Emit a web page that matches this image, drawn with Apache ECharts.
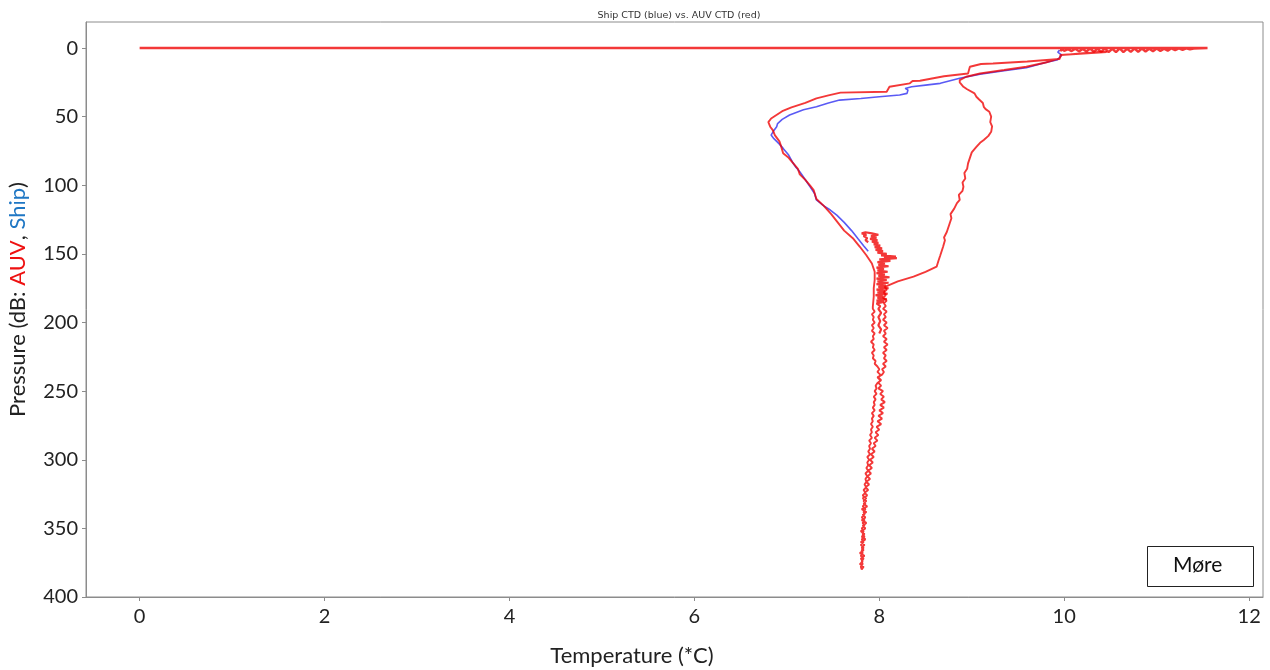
<!DOCTYPE html>
<html>
<head>
<meta charset="utf-8">
<title>Ship CTD vs AUV CTD</title>
<script src="https://cdn.jsdelivr.net/npm/echarts@6/dist/echarts.min.js"></script>
<style>
  html, body { margin: 0; padding: 0; background: #fff; }
  #main { width: 1270px; height: 670px; }
</style>
</head>
<body>
<div id="main"></div>
<script>
// tick labels
const tempTicks = [0, 2, 4, 6, 8, 10, 12];
const pressTicks = [0, 50, 100, 150, 200, 250, 300, 350, 400];

// [temperature, pressure]
// AUV at the surface (first sample logged as 0 degC), noisy wedge near 10-11.5
const auvSurface = [
  [0, 0], [11.55, 0], [11.4, 0.3], [11.36, 1.0], [11.32, 0.2], [11.28, 1.3], [11.24, 0.3],
  [11.2, 1.6], [11.16, 0.2], [11.12, 1.9], [11.08, 0.4], [11.04, 2.1], [11.0, 0.3],
  [10.96, 2.3], [10.92, 0.5], [10.88, 2.5], [10.84, 0.3], [10.8, 2.7], [10.76, 0.4],
  [10.72, 2.8], [10.68, 0.6], [10.64, 2.9], [10.6, 0.3], [10.56, 3.0], [10.52, 0.5],
  [10.48, 3.0], [10.44, 0.4], [10.4, 2.8], [10.36, 0.6], [10.32, 2.7], [10.28, 0.4],
  [10.24, 2.5], [10.2, 0.7], [10.16, 2.4], [10.12, 0.5], [10.08, 2.2], [10.04, 0.8],
  [10.0, 2.0], [9.97, 0.9], [9.96, 2.4]
];

// AUV dive down through the cold layer
const auvColdDown = [
  [10.46, 2.9], [9.96, 5.0], [9.95, 8.0], [9.6, 9.8], [9.23, 11.2], [9.1, 11.6],
  [8.98, 13.6], [8.97, 16.0], [8.96, 18.5], [8.7, 20.5], [8.44, 23.8], [8.36, 24.0],
  [8.33, 25.7], [8.11, 28.2], [8.08, 31.8], [7.58, 32.5], [7.45, 34.5], [7.32, 36.7],
  [7.2, 40.0], [7.05, 43.2], [6.95, 46.0], [6.83, 51.3], [6.8, 54.0], [6.82, 57.3],
  [6.85, 60.0], [6.87, 63.4], [6.92, 68.0], [6.94, 72.0], [6.96, 76.7], [7.02, 80.0],
  [7.07, 84.0], [7.12, 88.0], [7.14, 92.0], [7.2, 96.0], [7.25, 100.0], [7.29, 103.5],
  [7.32, 110.0], [7.4, 115.0], [7.48, 121.0], [7.55, 127.0], [7.62, 133.0],
  [7.72, 139.0], [7.79, 144.8], [7.86, 151.0], [7.92, 157.0], [7.95, 163.0],
  [7.95, 169.0], [7.94, 175.0], [7.94, 181.0], [7.93, 188.5]
];

// AUV column to the bottom (left strand)
const auvColumnDown = [
  [7.93, 190], [7.95, 192], [7.92, 194], [7.94, 196], [7.93, 198], [7.95, 200],
  [7.92, 202], [7.94, 204], [7.92, 206], [7.95, 208], [7.93, 210], [7.94, 212],
  [7.91, 214], [7.94, 216], [7.93, 218], [7.95, 220], [7.92, 222], [7.94, 224],
  [7.93, 226], [7.96, 228], [7.95, 230], [7.98, 232], [8.0, 234], [7.98, 236],
  [8.01, 238], [7.99, 240], [8.02, 242], [7.98, 244], [7.96, 246], [7.97, 248],
  [7.95, 250], [7.97, 252], [7.94, 254], [7.96, 256], [7.94, 258], [7.95, 260],
  [7.93, 262], [7.95, 264], [7.92, 266], [7.94, 268], [7.92, 270], [7.93, 272],
  [7.91, 274], [7.93, 276], [7.91, 278], [7.92, 280], [7.9, 282], [7.92, 284],
  [7.89, 286], [7.91, 288], [7.89, 290], [7.9, 292], [7.88, 294], [7.9, 296],
  [7.87, 298], [7.89, 300], [7.87, 302], [7.88, 304], [7.86, 306], [7.88, 308],
  [7.85, 310], [7.87, 312], [7.85, 314], [7.86, 316], [7.84, 318], [7.86, 320],
  [7.83, 322], [7.85, 324], [7.82, 326], [7.86, 328], [7.83, 330], [7.85, 332],
  [7.82, 334], [7.85, 336], [7.83, 338], [7.84, 340], [7.81, 342], [7.84, 344],
  [7.82, 346], [7.84, 348], [7.81, 350], [7.83, 352], [7.82, 354], [7.84, 356],
  [7.81, 358], [7.83, 360], [7.8, 362], [7.83, 364], [7.81, 366], [7.82, 368],
  [7.8, 370], [7.83, 372], [7.81, 374], [7.82, 376], [7.8, 378], [7.81, 380]
];

// AUV column back up (right strand)
const auvColumnUp = [
  [7.8, 380], [7.83, 378], [7.79, 376], [7.82, 374], [7.8, 372], [7.84, 370],
  [7.79, 368], [7.83, 366], [7.81, 364], [7.84, 362], [7.8, 360], [7.85, 358],
  [7.81, 356], [7.84, 354], [7.8, 352], [7.85, 350], [7.82, 348], [7.86, 346],
  [7.81, 344], [7.85, 342], [7.82, 340], [7.86, 338], [7.81, 336], [7.87, 334],
  [7.83, 332], [7.86, 330], [7.82, 328], [7.87, 326], [7.84, 324], [7.88, 322],
  [7.85, 320], [7.89, 318], [7.86, 316], [7.9, 314], [7.87, 312], [7.91, 310],
  [7.88, 308], [7.92, 306], [7.89, 304], [7.93, 302], [7.9, 300], [7.94, 298],
  [7.91, 296], [7.95, 294], [7.92, 292], [7.96, 290], [7.94, 288], [7.98, 286],
  [7.95, 284], [7.99, 282], [7.96, 280], [8.0, 278], [7.97, 276], [8.02, 274],
  [7.98, 272], [8.03, 270], [7.99, 268], [8.04, 266], [8.0, 264], [8.05, 262],
  [8.01, 260], [8.06, 258], [8.02, 256], [8.05, 254], [8.01, 252], [8.04, 250],
  [7.99, 248], [8.02, 246], [7.99, 244], [8.01, 242], [7.98, 240], [8.03, 238],
  [8.05, 236], [8.03, 234], [8.07, 232], [8.04, 230], [8.08, 228], [8.05, 226],
  [8.07, 224], [8.04, 222], [8.08, 220], [8.05, 218], [8.09, 216], [8.05, 214],
  [8.08, 212], [8.04, 210], [8.07, 208], [8.05, 206], [8.09, 204], [8.05, 202],
  [8.08, 200], [8.04, 198], [8.07, 196], [8.05, 194], [8.08, 192], [8.04, 190],
  [8.07, 188], [8.05, 186], [8.08, 184], [8.04, 182], [8.07, 180], [8.05, 178],
  [8.08, 176], [8.06, 174], [8.08, 172.7]
];

// AUV back up through the warm water
const auvWarmUp = [
  [8.2, 170.0], [8.37, 166.6], [8.5, 163.0], [8.62, 159.3], [8.64, 155.0],
  [8.66, 151.0], [8.69, 144.8], [8.71, 140.0], [8.7, 138.0], [8.73, 134.0],
  [8.76, 128.0], [8.78, 124.0], [8.77, 121.0], [8.81, 117.0], [8.84, 113.0],
  [8.87, 110.7], [8.86, 107.0], [8.9, 104.0], [8.91, 101.0], [8.9, 98.0],
  [8.93, 95.0], [8.92, 91.0], [8.95, 88.0], [8.96, 84.0], [8.98, 80.0],
  [9.0, 76.0], [9.05, 72.0], [9.09, 69.0], [9.13, 67.0], [9.18, 64.0], [9.21, 61.0],
  [9.22, 57.0], [9.2, 54.0], [9.21, 50.0], [9.19, 46.4], [9.15, 44.5], [9.13, 42.8],
  [9.12, 40.0], [9.08, 37.5], [9.05, 35.5], [9.03, 33.0], [9.02, 31.8], [8.95, 30.0],
  [8.91, 28.2], [8.87, 25.0], [8.87, 23.3], [8.94, 20.9], [9.09, 18.5], [9.35, 16.0],
  [9.59, 13.6], [9.8, 10.5], [9.95, 7.5], [9.97, 5.1], [10.2, 3.8], [10.46, 2.9]
];

// AUV noisy hold around 135-210 dB
const auvHold = [
  [8.0, 208], [8.02, 205], [7.99, 202], [8.01, 199], [7.99, 196], [8.02, 193],
  [7.99, 190], [8.01, 188], [7.97, 186], [8.05, 185], [7.97, 184], [8.08, 183],
  [7.98, 182], [8.04, 181], [7.96, 180], [8.09, 179], [7.98, 178], [8.06, 177],
  [7.97, 176], [8.1, 175], [7.99, 174], [8.07, 173], [7.97, 172], [8.1, 171],
  [7.98, 170], [8.08, 169], [7.97, 168], [8.11, 167], [7.99, 166], [8.06, 165],
  [7.97, 164], [8.09, 163], [7.98, 162], [8.05, 161], [7.97, 160], [8.1, 159],
  [7.99, 158], [8.06, 157], [7.98, 156], [8.12, 155], [8.0, 154], [8.19, 153],
  [8.05, 152.5], [8.18, 152], [8.02, 151], [8.08, 150], [7.98, 149], [8.04, 148],
  [7.96, 147], [8.03, 146], [7.95, 145], [8.01, 144], [7.94, 143], [7.99, 142],
  [7.92, 141], [7.98, 140], [7.9, 139], [7.97, 138], [7.91, 137], [7.99, 136],
  [7.92, 135], [7.85, 134.2], [7.81, 135], [7.86, 136], [7.83, 137], [7.87, 138.5],
  [7.85, 140], [7.88, 141.5]
];

// ship CTD cast
const shipCast = [
  [9.95, 1.5], [9.93, 3.0], [9.97, 5.0], [9.95, 7.0], [9.92, 8.7], [9.8, 10.5],
  [9.59, 14.3], [9.35, 16.5], [9.09, 19.0], [8.87, 22.0], [8.66, 25.7], [8.5, 27.0],
  [8.35, 28.2], [8.28, 29.4], [8.31, 30.5], [8.33, 31.8], [8.3, 33.0], [8.22, 34.2],
  [8.0, 35.5], [7.8, 36.8], [7.57, 37.9], [7.45, 40.0], [7.32, 42.8], [7.18, 45.0],
  [7.03, 48.8], [6.95, 52.0], [6.9, 55.0], [6.89, 57.3], [6.86, 60.0], [6.83, 63.4],
  [6.86, 66.0], [6.92, 70.0], [6.96, 73.1], [7.02, 78.0], [7.06, 83.0], [7.1, 87.0],
  [7.14, 90.1], [7.2, 96.0], [7.25, 101.0], [7.3, 106.0], [7.32, 110.7], [7.4, 115.0],
  [7.47, 118.0], [7.54, 121.7], [7.62, 127.0], [7.7, 133.0], [7.77, 139.0],
  [7.83, 144.0], [7.88, 148.0]
];

// one continuous AUV track: cold descent -> bottom -> back up -> warm ascent
const auvTrack = [...auvColdDown, ...auvColumnDown, ...auvColumnUp, ...auvWarmUp];

const RED = 'rgba(240, 0, 0, 0.78)';
const BLUE = 'rgba(20, 20, 240, 0.7)';
const FONT = 'Lato, "Open Sans", sans-serif';
const GREY = '#8c8c8c';

function redLine(name, data, width) {
  return {
    name, type: 'line', data,
    showSymbol: false, silent: true, animation: false,
    lineStyle: { color: RED, width: width || 1.8 },
    z: 3
  };
}

const chart = echarts.init(document.getElementById('main'));

chart.setOption({
  backgroundColor: '#fff',
  title: {
    text: 'Ship CTD (blue) vs. AUV CTD (red)',
    left: 674, top: 6, textAlign: 'center',
    textStyle: { fontSize: 9.5, fontWeight: 'normal', color: '#333', fontFamily: 'DejaVu Sans' }
  },
  grid: {
    show: true, left: 86, right: 7, top: 22, bottom: 73,
    outerBoundsMode: 'none', containLabel: false,
    borderColor: GREY, borderWidth: 1
  },
  xAxis: {
    type: 'value', min: -0.58, max: 12.15,
    name: 'Temperature (*C)', nameLocation: 'middle', nameGap: 48,
    nameTextStyle: { fontSize: 22, color: '#222', fontFamily: FONT, padding: [0, 85, 0, 0] },
    axisLine: { show: true, onZero: false, lineStyle: { color: GREY } },
    axisTick: { show: true, length: 4, customValues: tempTicks, lineStyle: { color: GREY } },
    axisLabel: { customValues: tempTicks, fontSize: 20, color: '#222', fontFamily: FONT, margin: 10 },
    splitLine: { show: false }
  },
  yAxis: {
    type: 'value', min: -19, max: 400, inverse: true,
    name: '{a|Pressure (dB: }{r|AUV}{a|, }{b|Ship}{a|)}',
    nameLocation: 'middle', nameGap: 57, nameRotate: 90,
    nameTextStyle: {
      fontSize: 22, color: '#222', fontFamily: FONT, padding: [0, 0, 0, 20],
      rich: {
        a: { fontSize: 22, color: '#222', fontFamily: FONT },
        r: { fontSize: 22, color: '#ee1111', fontFamily: FONT },
        b: { fontSize: 22, color: '#1f77c4', fontFamily: FONT }
      }
    },
    axisLine: { show: true, onZero: false, lineStyle: { color: GREY } },
    axisTick: { show: true, length: 4, customValues: pressTicks, lineStyle: { color: GREY } },
    axisLabel: { customValues: pressTicks, fontSize: 20, color: '#222', fontFamily: FONT, margin: 8 },
    splitLine: { show: false }
  },
  graphic: [
    {
      type: 'rect', left: 1147, top: 546,
      shape: { width: 106, height: 40 },
      style: { fill: '#fff', stroke: '#222', lineWidth: 1 }
    },
    {
      type: 'text', left: 1173, top: 555,
      style: { text: 'Møre', fontSize: 21, fill: '#111', fontFamily: FONT }
    }
  ],
  series: [
    {
      name: 'Ship', type: 'line', data: shipCast,
      showSymbol: false, silent: true, animation: false,
      lineStyle: { color: BLUE, width: 1.6 },
      z: 2
    },
    redLine('AUV surface', auvSurface, 2.4),
    redLine('AUV track', auvTrack, 1.9),
    redLine('AUV hold', auvHold, 2.2)
  ]
});
</script>
</body>
</html>
